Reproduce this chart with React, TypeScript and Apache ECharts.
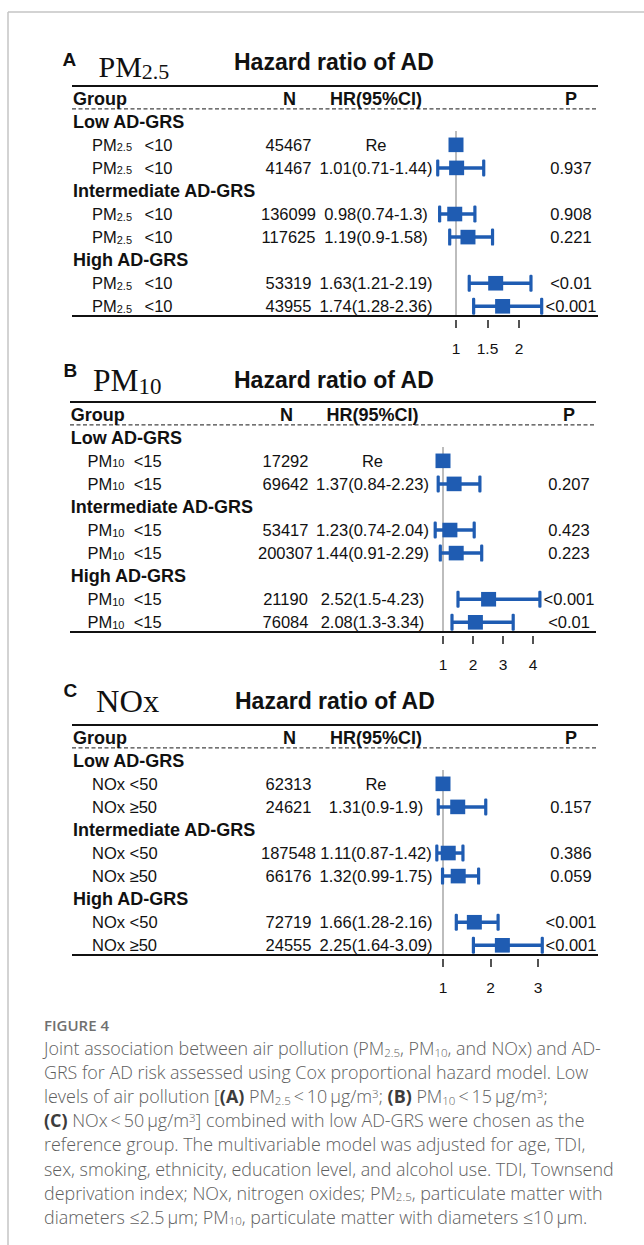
import React, { useEffect, useRef } from "react";
import * as echarts from "echarts";

// ---------------- data ----------------
const groupNames = ["Low AD-GRS", "Intermediate AD-GRS", "High AD-GRS"];
const columnHeaders = ["Group", "N", "HR(95%CI)", "P"];
const refLabel = "Re";
const chartTitle = "Hazard ratio of AD";

const pm25Levels = ["<10", "<10", "<10", "<10", "<10", "<10"];
const pm25N = [45467, 41467, 136099, 117625, 53319, 43955];
const pm25HR = [1, 1.01, 0.98, 1.19, 1.63, 1.74];
const pm25Lo = [null, 0.71, 0.74, 0.9, 1.21, 1.28];
const pm25Hi = [null, 1.44, 1.3, 1.58, 2.19, 2.36];
const pm25P = ["", "0.937", "0.908", "0.221", "<0.01", "<0.001"];
const pm25Ticks = [1, 1.5, 2];

const pm10Levels = ["<15", "<15", "<15", "<15", "<15", "<15"];
const pm10N = [17292, 69642, 53417, 200307, 21190, 76084];
const pm10HR = [1, 1.37, 1.23, 1.44, 2.52, 2.08];
const pm10Lo = [null, 0.84, 0.74, 0.91, 1.5, 1.3];
const pm10Hi = [null, 2.23, 2.04, 2.29, 4.23, 3.34];
const pm10P = ["", "0.207", "0.423", "0.223", "<0.001", "<0.01"];
const pm10Ticks = [1, 2, 3, 4];

const noxLevels = ["<50", "≥50", "<50", "≥50", "<50", "≥50"];
const noxN = [62313, 24621, 187548, 66176, 72719, 24555];
const noxHR = [1, 1.31, 1.11, 1.32, 1.66, 2.25];
const noxLo = [null, 0.9, 0.87, 0.99, 1.28, 1.64];
const noxHi = [null, 1.9, 1.42, 1.75, 2.16, 3.09];
const noxP = ["", "0.157", "0.386", "0.059", "<0.001", "<0.001"];
const noxTicks = [1, 2, 3];

const figureLabel = "FIGURE 4";
const TS = "\u2009";
const captionLines: Array<Array<[string, string]>> = [
  [["n", "Joint association between air pollution (PM"], ["sub", "2.5"], ["n", ", PM"], ["sub", "10"], ["n", ", and NOx) and AD-"]],
  [["n", "GRS for AD risk assessed using Cox proportional hazard model. Low"]],
  [["n", "levels of air pollution ["], ["b", "(A)"], ["n", " PM"], ["sub", "2.5"], ["n", TS + "<" + TS + "10" + TS + "μg/m"], ["sup", "3"], ["n", "; "], ["b", "(B)"], ["n", " PM"], ["sub", "10"], ["n", TS + "<" + TS + "15" + TS + "μg/m"], ["sup", "3"], ["n", ";"]],
  [["b", "(C)"], ["n", " NOx" + TS + "<" + TS + "50" + TS + "μg/m"], ["sup", "3"], ["n", "] combined with low AD-GRS were chosen as the"]],
  [["n", "reference group. The multivariable model was adjusted for age, TDI,"]],
  [["n", "sex, smoking, ethnicity, education level, and alcohol use. TDI, Townsend"]],
  [["n", "deprivation index; NOx, nitrogen oxides; PM"], ["sub", "2.5"], ["n", ", particulate matter with"]],
  [["n", "diameters ≤2.5" + TS + "μm; PM"], ["sub", "10"], ["n", ", particulate matter with diameters ≤10" + TS + "μm."]],
];

// ---------------- styles / layout ----------------
const BLUE = "#1f5cb2";
const INK = "#111111";
const SANS = "'Liberation Sans', Arial, Helvetica, sans-serif";
const SERIF = "'Liberation Serif', 'Times New Roman', serif";
const CAP_FONT = "'Open Sans', 'Noto Sans', sans-serif";
const GRID_W = 526;
const GRID_H = 230;
const Y_MIN = -1.55;
const Y_MAX = 8.42;
const HEADER_ROW = -1.0;
const DASH_ROW = -0.56;
const REF_TOP_ROW = 0.4;

const panels = [
  {
    letter: "A", name: "PM", sub: "2.5", sep: "  \u2009", levels: pm25Levels, n: pm25N, hr: pm25HR, lo: pm25Lo, hi: pm25Hi, p: pm25P, ticks: pm25Ticks,
    left: 72, top: 86, refX: 456, ppu: 63,
    letterX: 62.5, letterY: 59, nameX: 98.5, nameY: 66, nameSize: 30, subSize: 22, hazardX: 234, hazardY: 62,
    cols: { group: 1, label: 20, n: 216.5, hr: 304, p: 499 },
  },
  {
    letter: "B", name: "PM", sub: "10", sep: "  ", levels: pm10Levels, n: pm10N, hr: pm10HR, lo: pm10Lo, hi: pm10Hi, p: pm10P, ticks: pm10Ticks,
    left: 70, top: 402, refX: 443, ppu: 30,
    letterX: 63.6, letterY: 370.5, nameX: 93, nameY: 380.5, nameSize: 31.5, subSize: 23, hazardX: 234, hazardY: 380,
    cols: { group: 0.7, label: 17.5, n: 215.5, hr: 302.5, p: 499 },
  },
  {
    letter: "C", name: "NOx", sub: "", sep: " ", levels: noxLevels, n: noxN, hr: noxHR, lo: noxLo, hi: noxHi, p: noxP, ticks: noxTicks,
    left: 72, top: 725, refX: 443, ppu: 47.5,
    letterX: 63.6, letterY: 690, nameX: 96, nameY: 701, nameSize: 32.5, subSize: 22, hazardX: 235, hazardY: 700.5,
    cols: { group: 1, label: 20, n: 216.5, hr: 304, p: 499 },
  },
];

const rowOf = (i: number) => Math.floor(i / 2) * 3 + 1 + (i % 2);

function T(text: string, x: number, y: number, extra: any = {}) {
  return {
    type: "text",
    silent: true,
    style: {
      text, x, y,
      fill: INK,
      fontFamily: SANS,
      fontSize: 16.5,
      align: "left",
      verticalAlign: "middle",
      ...extra,
    },
  };
}

function buildOption() {
  const grid: any[] = [];
  const xAxis: any[] = [];
  const yAxis: any[] = [];
  const series: any[] = [];
  const graphic: any[] = [];

  // outer frame lines
  graphic.push({ type: "line", silent: true, shape: { x1: 8, y1: 12, x2: 644, y2: 12 }, style: { stroke: "#c4c4c4", lineWidth: 1.5 } });
  graphic.push({ type: "line", silent: true, shape: { x1: 8, y1: 12, x2: 8, y2: 1245 }, style: { stroke: "#c4c4c4", lineWidth: 1.5 } });

  panels.forEach((pn, k) => {
    const min = 1 - (pn.refX - pn.left) / pn.ppu;
    const max = min + GRID_W / pn.ppu;
    grid.push({ left: pn.left, top: pn.top, width: GRID_W, height: GRID_H });
    xAxis.push({
      type: "value", gridIndex: k, min, max, offset: 4, position: "bottom",
      axisLine: { show: false, onZero: false },
      splitLine: { show: false },
      axisTick: { show: true, customValues: pn.ticks, length: 8, lineStyle: { color: "#1a1a1a", width: 1.5 } },
      axisLabel: { show: true, customValues: pn.ticks, margin: 20, fontSize: 15.5, color: INK, fontFamily: SANS, formatter: (v: number) => String(v) },
    });
    yAxis.push({ type: "value", gridIndex: k, min: Y_MIN, max: Y_MAX, inverse: true, show: false });

    // frame: top / dashed / bottom lines and reference line
    series.push({
      type: "custom", xAxisIndex: k, yAxisIndex: k, silent: true, z: 1,
      data: [[1, 0]],
      renderItem: (params: any, api: any) => {
        const cs = params.coordSys;
        const yDash = api.coord([1, DASH_ROW])[1];
        const refTop = api.coord([1, REF_TOP_ROW]);
        const bottom = cs.y + cs.height;
        return {
          type: "group",
          children: [
            { type: "line", shape: { x1: refTop[0], y1: refTop[1], x2: refTop[0], y2: bottom }, style: { stroke: "#9a9a9a", lineWidth: 1.3 } },
            { type: "line", shape: { x1: cs.x, y1: cs.y, x2: cs.x + cs.width, y2: cs.y }, style: { stroke: "#111", lineWidth: 2.2 } },
            { type: "line", shape: { x1: cs.x, y1: yDash, x2: cs.x + cs.width, y2: yDash }, style: { stroke: "#444", lineWidth: 1.1, lineDash: [4, 2.5] } },
            { type: "line", shape: { x1: cs.x, y1: bottom, x2: cs.x + cs.width, y2: bottom }, style: { stroke: "#111", lineWidth: 2.2 } },
          ],
        };
      },
    });

    // confidence intervals and squares
    series.push({
      type: "custom", xAxisIndex: k, yAxisIndex: k, silent: true, z: 3,
      encode: { x: 0, y: 1 },
      data: pn.hr.map((h, i) => [h, rowOf(i), pn.lo[i] ?? h, pn.hi[i] ?? h, pn.lo[i] == null ? 0 : 1]),
      renderItem: (params: any, api: any) => {
        const c = api.coord([api.value(0), api.value(1)]);
        const children: any[] = [];
        if (api.value(4) === 1) {
          const pl = api.coord([api.value(2), api.value(1)]);
          const ph = api.coord([api.value(3), api.value(1)]);
          children.push({ type: "line", shape: { x1: pl[0], y1: c[1], x2: ph[0], y2: c[1] }, style: { stroke: BLUE, lineWidth: 3.5 } });
          children.push({ type: "rect", shape: { x: pl[0] - 1.6, y: c[1] - 8.5, width: 3.2, height: 17, r: 1.2 }, style: { fill: BLUE } });
          children.push({ type: "rect", shape: { x: ph[0] - 1.6, y: c[1] - 8.5, width: 3.2, height: 17, r: 1.2 }, style: { fill: BLUE } });
        }
        children.push({ type: "rect", shape: { x: c[0] - 7.5, y: c[1] - 7.3, width: 15, height: 14.6 }, style: { fill: BLUE } });
        return { type: "group", children };
      },
    });

    // table text
    const rows: any[] = [{ y: HEADER_ROW, kind: "col" }];
    groupNames.forEach((g, gi) => {
      rows.push({ y: gi * 3, kind: "grp", text: g });
      for (let j = 0; j < 2; j++) rows.push({ y: gi * 3 + 1 + j, kind: "data", i: gi * 2 + j });
    });
    series.push({
      type: "custom", xAxisIndex: k, yAxisIndex: k, silent: true, z: 2,
      encode: { x: 0, y: 1 },
      data: rows.map((r) => [1, r.y]),
      renderItem: (params: any, api: any) => {
        const cs = params.coordSys;
        const row = rows[params.dataIndex];
        const y = api.coord([1, row.y])[1];
        const X = (o: number) => cs.x + o;
        const B = { fontWeight: "bold", fontSize: 18 };
        if (row.kind === "col") {
          return {
            type: "group",
            children: [
              T(columnHeaders[0], X(pn.cols.group), y, B),
              T(columnHeaders[1], X(pn.cols.n + 1), y, { ...B, align: "center" }),
              T(columnHeaders[2], X(pn.cols.hr), y, { ...B, align: "center" }),
              T(columnHeaders[3], X(pn.cols.p), y, { ...B, align: "center" }),
            ],
          };
        }
        if (row.kind === "grp") {
          return { type: "group", children: [T(row.text, X(pn.cols.group), y, B)] };
        }
        const i = row.i;
        const labelText = pn.sub
          ? `{m|${pn.name}}{s|${pn.sub}}{m|${pn.sep}${pn.levels[i]}}`
          : `{m|${pn.name}${pn.sep}${pn.levels[i]}}`;
        const hrText = pn.lo[i] == null ? refLabel : `${pn.hr[i].toFixed(2)}(${pn.lo[i]}-${pn.hi[i]})`;
        return {
          type: "group",
          children: [
            T(labelText, X(pn.cols.label), y, {
              rich: {
                m: { fontFamily: SANS, fontSize: 16.5, fill: INK, lineHeight: 20 },
                s: { fontFamily: SANS, fontSize: 11, fill: INK, lineHeight: 20, height: 15, verticalAlign: "bottom" },
              },
            }),
            T(String(pn.n[i]), X(pn.cols.n), y, { align: "center" }),
            T(hrText, X(pn.cols.hr), y, { align: "center" }),
            T(pn.p[i], X(pn.cols.p), y, { align: "center" }),
          ],
        };
      },
    });

    // titles
    graphic.push({ type: "text", silent: true, x: pn.letterX, y: pn.letterY, style: { text: pn.letter, fill: INK, fontFamily: SANS, fontSize: 19, fontWeight: "bold", align: "left", verticalAlign: "middle" } });
    graphic.push({
      type: "text", silent: true, x: pn.nameX, y: pn.nameY,
      style: {
        text: pn.sub ? `{m|${pn.name}}{s|${pn.sub}}` : `{m|${pn.name}}`,
        align: "left", verticalAlign: "middle",
        rich: {
          m: { fontFamily: SERIF, fontSize: pn.nameSize, fill: INK, lineHeight: 38 },
          s: { fontFamily: SERIF, fontSize: pn.subSize, fill: INK, lineHeight: 38, height: 27, verticalAlign: "bottom" },
        },
      },
    });
    graphic.push({ type: "text", silent: true, x: pn.hazardX, y: pn.hazardY, style: { text: chartTitle, fill: INK, fontFamily: SANS, fontSize: 23, fontWeight: "bold", align: "left", verticalAlign: "middle" } });
  });

  // caption
  const CAP_COLOR = "#5e5e5e";
  const CS = 17.9;
  graphic.push({ type: "text", silent: true, x: 44, y: 1025, style: { text: figureLabel, fill: "#707070", fontFamily: CAP_FONT, fontSize: 15, fontWeight: 600, align: "left", verticalAlign: "middle" } });
  const capRich = {
    n: { fontFamily: CAP_FONT, fontSize: CS, fontWeight: 300, fill: CAP_COLOR, lineHeight: 24 },
    b: { fontFamily: CAP_FONT, fontSize: CS, fontWeight: 700, fill: "#3c3c3c", lineHeight: 24 },
    sub: { fontFamily: CAP_FONT, fontSize: 11.5, fontWeight: 300, fill: CAP_COLOR, lineHeight: 24, height: 15.5, verticalAlign: "bottom" },
    sup: { fontFamily: CAP_FONT, fontSize: 11.5, fontWeight: 300, fill: CAP_COLOR, lineHeight: 24, height: 19, verticalAlign: "top" },
  };
  captionLines.forEach((segs, li) => {
    graphic.push({
      type: "text", silent: true, x: 44, y: 1048 + li * 24.1,
      style: {
        text: segs.map(([s, t]) => `{${s}|${t}}`).join(""),
        align: "left", verticalAlign: "middle",
        rich: capRich,
      },
    });
  });

  return {
    animation: false,
    backgroundColor: "#ffffff",
    grid, xAxis, yAxis, series, graphic,
  };
}

export default function App() {
  const ref = useRef<HTMLDivElement>(null);
  useEffect(() => {
    const chart = echarts.init(ref.current!, null, { renderer: "svg" });
    chart.setOption(buildOption() as any);
    return () => chart.dispose();
  }, []);
  return (
    <div
      ref={ref}
      style={{ position: "absolute", left: 0, top: 0, width: 644, height: 1245, background: "#fff" }}
    />
  );
}
